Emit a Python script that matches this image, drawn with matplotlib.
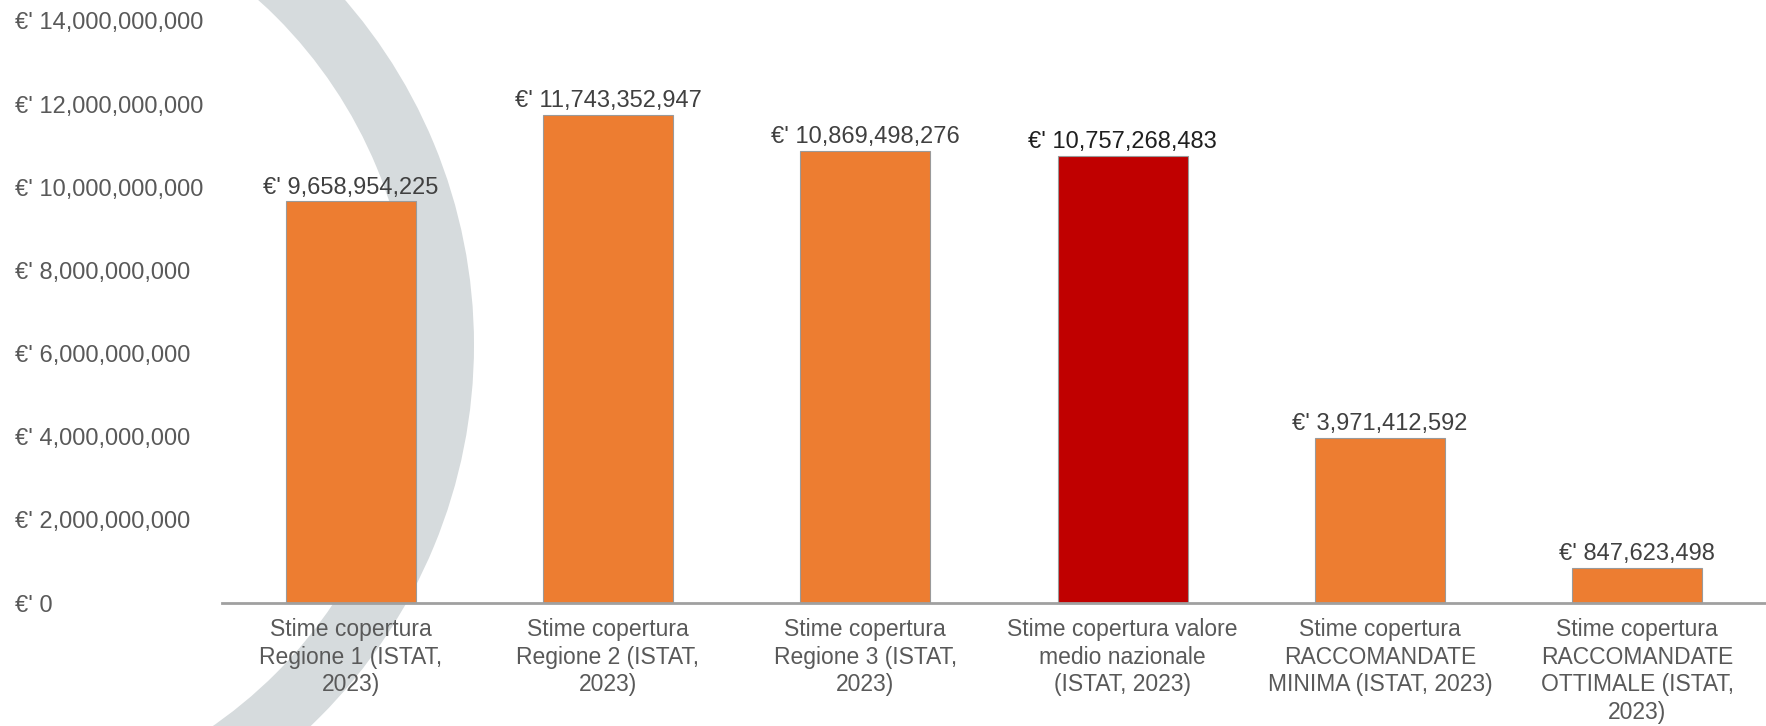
import numpy as np
import matplotlib.pyplot as plt
from matplotlib.patches import Wedge

plt.rcParams['font.family'] = ['Liberation Sans', 'DejaVu Sans']

# -----------------------------
# Data
# -----------------------------
categories = [
    "Stime copertura\nRegione 1 (ISTAT,\n2023)",
    "Stime copertura\nRegione 2 (ISTAT,\n2023)",
    "Stime copertura\nRegione 3 (ISTAT,\n2023)",
    "Stime copertura valore\nmedio nazionale\n(ISTAT, 2023)",
    "Stime copertura\nRACCOMANDATE\nMINIMA (ISTAT, 2023)",
    "Stime copertura\nRACCOMANDATE\nOTTIMALE (ISTAT,\n2023)",
]
values = [9658954225, 11743352947, 10869498276, 10757268483, 3971412592, 847623498]
highlight = 3  # national average bar
y_ticks = np.arange(0, 14e9 + 1, 2e9)

orange = '#ED7D31'
red = '#C00000'
text_grey = '#595959'

# -----------------------------
# Figure
# -----------------------------
W, H = 1766, 726
fig = plt.figure(figsize=(W / 100, H / 100), dpi=100)

# decorative grey ring behind the chart (pixel coordinates)
bg = fig.add_axes([0, 0, 1, 1], zorder=0)
bg.set_xlim(0, W)
bg.set_ylim(H, 0)
bg.axis('off')
bg.add_patch(Wedge((-52, 345), 526, 0, 360, width=62, color='#d6dbdd', lw=0))

ax = fig.add_axes([222 / W, (H - 603) / H, (W - 222) / W, (603 - 21) / H], zorder=1)
ax.set_facecolor('none')

x = np.arange(len(values))
colors = [red if i == highlight else orange for i in x]
bars = ax.bar(x, values, width=0.505, color=colors, edgecolor='#9a9a9a', linewidth=0.8)

for i, (xi, v) in enumerate(zip(x, values)):
    ax.annotate(f"€' {v:,}", (xi, v), xytext=(0, 2), textcoords='offset points',
                ha='center', va='bottom', fontsize=17,
                color='#1f1f1f' if i == highlight else '#404040')

ax.set_xlim(-0.5, len(values) - 0.5)
ax.set_ylim(0, 14e9)
ax.set_yticks(y_ticks)
ax.set_yticklabels([f"€' {int(t):,}" for t in y_ticks])
ax.tick_params(axis='y', length=0, pad=149, labelsize=17, labelcolor=text_grey)
for lab in ax.get_yticklabels():
    lab.set_ha('left')

ax.set_xticks(x)
ax.set_xticklabels(categories, fontsize=16.5, color=text_grey, linespacing=1.25)
ax.tick_params(axis='x', length=0, pad=11)

for side in ['top', 'right', 'left']:
    ax.spines[side].set_visible(False)
ax.spines['bottom'].set_color('#a0a0a0')
ax.spines['bottom'].set_linewidth(2)

fig.savefig('out.png', dpi=100)
